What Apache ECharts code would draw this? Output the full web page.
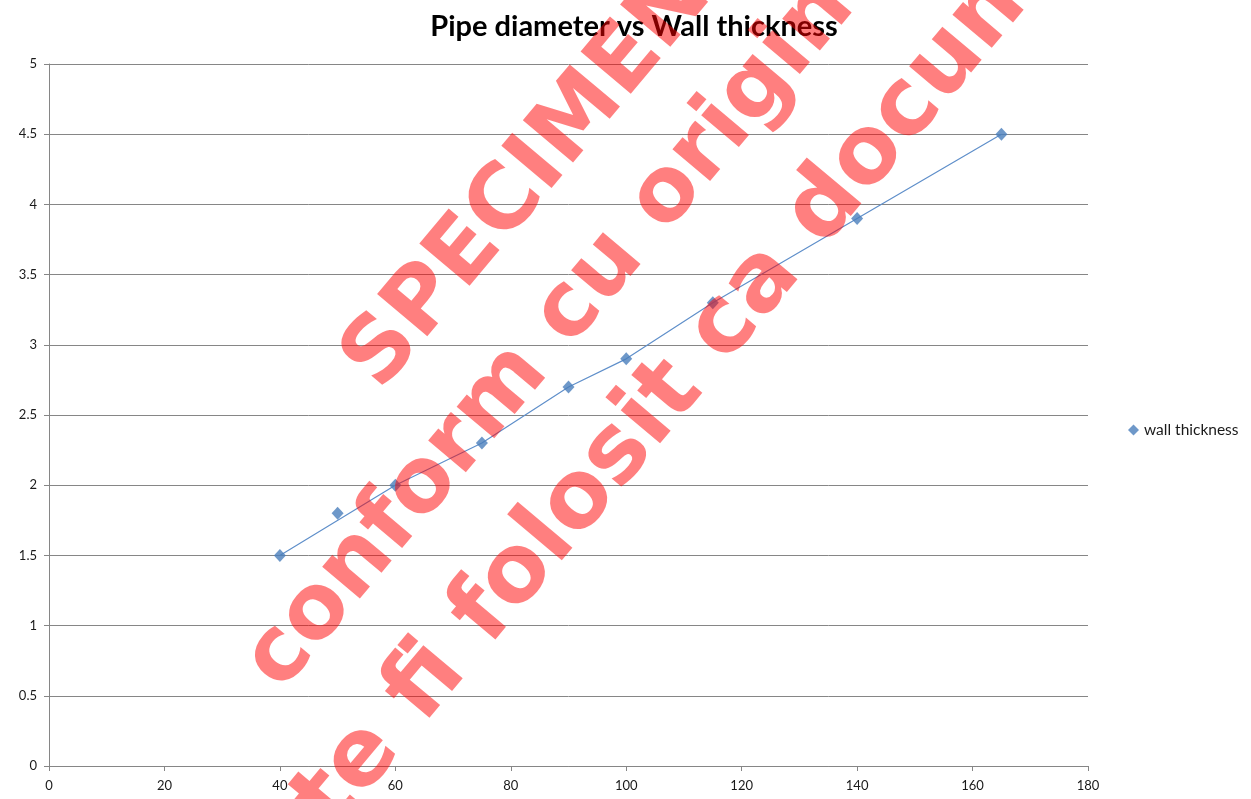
<!DOCTYPE html>
<html>
<head>
<meta charset="utf-8">
<title>Pipe diameter vs Wall thickness</title>
<script src="https://cdn.jsdelivr.net/npm/echarts@6/dist/echarts.min.js"></script>
<style>
  html, body { margin: 0; padding: 0; background: #fff; }
  #chart { width: 1251px; height: 799px; }
</style>
</head>
<body>
<div id="chart"></div>
<script>
// measured points (pipe diameter, wall thickness)
var diameters = [40, 50, 60, 75, 90, 100, 115, 140, 165];
var thickness = [1.5, 1.8, 2.0, 2.3, 2.7, 2.9, 3.3, 3.9, 4.5];

// the thin connecting line skips the 50 point
var lineDiameters = [40, 60, 75, 90, 100, 115, 140, 165];
var lineThickness = [1.5, 2.0, 2.3, 2.7, 2.9, 3.3, 3.9, 4.5];

var watermarkLines = ['SPECIMEN', 'conform cu originalul', 'nu poate fi folosit ca document'];

var dom = document.getElementById('chart');
var myChart = echarts.init(dom);

var points = diameters.map(function (d, i) { return [d, thickness[i]]; });
var linePoints = lineDiameters.map(function (d, i) { return [d, lineThickness[i]]; });

// watermark: each line placed along a 50 degree slope
var angle = 50 * Math.PI / 180;
var wmPos = [[-56, 520, 90], [-350, 637, 90], [-787, 766, 94]]; // along, across, font size
var watermark = watermarkLines.map(function (txt, i) {
    var u = wmPos[i][0], n = wmPos[i][1];
    return {
        type: 'text',
        x: u * Math.cos(angle) + n * Math.sin(angle),
        y: -u * Math.sin(angle) + n * Math.cos(angle),
        rotation: angle,
        z: 100,
        silent: true,
        style: {
            text: txt,
            fill: 'rgba(255,0,0,0.5)',
            font: 'bold ' + wmPos[i][2] + 'px "DejaVu Sans"',
            textAlign: 'left',
            textVerticalAlign: 'middle'
        }
    };
});

var axisGray = '#868686';
var labelFont = { color: '#1a1a1a', fontSize: 13, fontFamily: 'Lato' };

var option = {
    backgroundColor: '#fff',
    animation: false,
    title: {
        text: 'Pipe diameter vs Wall thickness',
        left: 629,
        textAlign: 'center',
        top: 7,
        textStyle: { fontFamily: 'Lato', fontWeight: 'bold', fontSize: 29, color: '#000' }
    },
    legend: {
        data: ['wall thickness'],
        orient: 'vertical',
        left: 1123,
        top: 417,
        itemWidth: 11,
        itemHeight: 11,
        itemGap: 4,
        textStyle: { fontFamily: 'Lato', fontSize: 15.5, color: '#1a1a1a' }
    },
    grid: { left: 49, right: 163, top: 64, bottom: 33 },
    xAxis: {
        type: 'value',
        min: 0, max: 180, interval: 20,
        axisLine: { show: true, onZero: false, lineStyle: { color: axisGray } },
        axisTick: { show: true, length: 5, lineStyle: { color: axisGray } },
        axisLabel: Object.assign({ margin: 13 }, labelFont),
        splitLine: { show: false }
    },
    yAxis: {
        type: 'value',
        min: 0, max: 5, interval: 0.5,
        axisLine: { show: true, lineStyle: { color: axisGray } },
        axisTick: { show: true, length: 5, lineStyle: { color: axisGray } },
        axisLabel: Object.assign({ margin: 12 }, labelFont),
        splitLine: { show: true, lineStyle: { color: axisGray, width: 1 } }
    },
    series: [
        {
            name: 'trend',
            type: 'line',
            data: linePoints,
            showSymbol: false,
            silent: true,
            z: 2,
            lineStyle: { color: '#5f8fca', width: 1.2 }
        },
        {
            name: 'wall thickness',
            type: 'scatter',
            data: points,
            symbol: 'diamond',
            symbolSize: [12, 13],
            z: 3,
            itemStyle: { color: '#4a7ebb' }
        }
    ],
    graphic: watermark
};

if (option && typeof option === 'object') {
    myChart.setOption(option);
}
</script>
</body>
</html>
